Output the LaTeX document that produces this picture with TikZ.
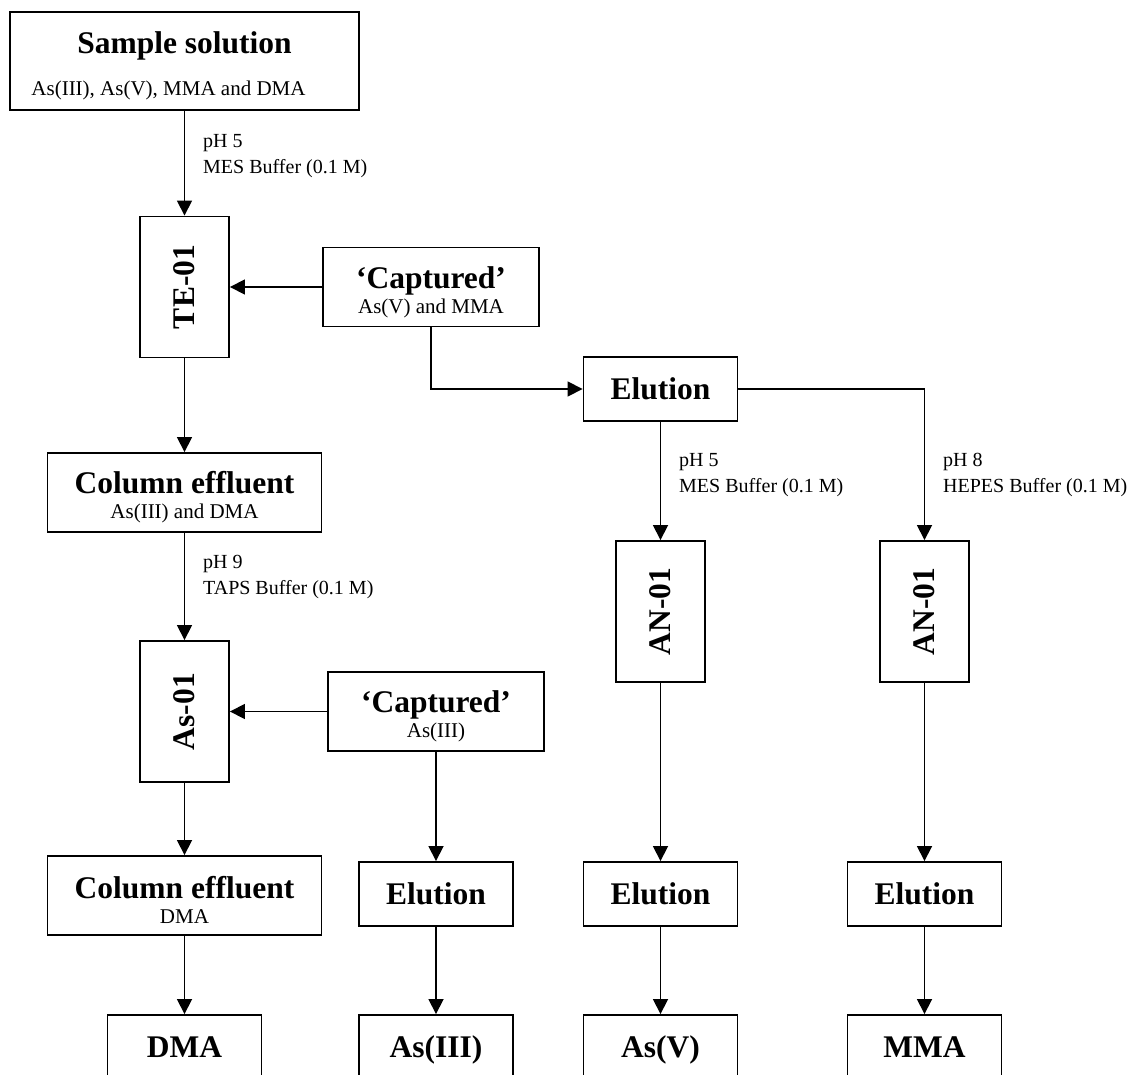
\documentclass[tikz,border=0pt]{standalone}
\usepackage{fontspec}
\setmainfont{Liberation Serif}
\usepackage{graphicx}
\usetikzlibrary{arrows.meta}
\newcommand\boxtitle{\fontsize{31.5}{34}\selectfont\bfseries}
\newcommand\boxsub{\fontsize{21}{25}\selectfont}
\newcommand\notefont{\fontsize{20}{26}\selectfont}
\newcommand\boxtext[2]{{\boxtitle\rule{0pt}{32pt}#1}\\{#2}}
\tikzset{
  stage/.style={draw,line width=1.9pt,inner sep=0pt,align=center,font=\boxsub},
  effluent/.style={stage,minimum width=274pt,minimum height=79pt},
  capt/.style={stage,minimum width=216pt,minimum height=79pt},
  elu/.style={stage,minimum width=154pt,minimum height=64pt,font=\boxtitle,text height=21.5pt,text depth=0pt},
  cartridge/.style={stage,minimum width=89pt,minimum height=141pt},
  note/.style={anchor=west,align=left,inner sep=0pt,font=\notefont},
  flow/.style={line width=1.7pt,-{Triangle[length=15pt,width=15pt]}}
}
\begin{document}
\begin{tikzpicture}[line cap=round,x=1pt,y=-1pt]
		\useasboundingbox (0,0) rectangle (1132,1075);
		\clip (0,0) rectangle (1132,1075);
		% left branch
		\node[stage,minimum width=349pt,minimum height=98pt] (sample) at (184.5,61) {{\boxtitle\rule{0pt}{32pt}Sample solution}\\[17pt]As(III), As(V), MMA and DMA\kern32pt};
		\node[cartridge] (te) at (184.5,287) {\rotatebox{90}{\boxtitle TE-01}};
		\node[capt] (cap1) at (431,287) {\boxtext{‘Captured’}{As(V) and MMA}};
		\node[effluent] (ce1) at (184.5,492.5) {\boxtext{Column effluent}{As(III) and DMA}};
		\node[cartridge] (as) at (184.5,711.5) {\rotatebox{90}{\boxtitle As-01}};
		\node[capt] (cap2) at (436,711.5) {\boxtext{‘Captured’}{As(III)}};
		\node[effluent] (ce2) at (184.5,895.5) {\boxtext{Column effluent}{DMA}};
		% right branch
		\node[elu] (elu1) at (660.5,389) {Elution};
		\node[cartridge] (an1) at (660.5,611.5) {\rotatebox{90}{\boxtitle AN-01}};
		\node[cartridge] (an2) at (924.5,611.5) {\rotatebox{90}{\boxtitle AN-01}};
		\node[elu] (elu2) at (436,894) {Elution};
		\node[elu] (elu3) at (660.5,894) {Elution};
		\node[elu] (elu4) at (924.5,894) {Elution};
		% final species, cut by the frame
		\foreach \x/\name/\txt in {184.5/dma/DMA,436/asiii/{As(III)},660.5/asv/{As(V)},924.5/mma/MMA}
			\node[elu] (\name) at (\x,1047) {\txt};
		% buffers
		\node[note] (n1) at (203,156) {pH 5\\MES Buffer (0.1 M)};
		\node[note] (n2) at (203,577) {pH 9\\TAPS Buffer (0.1 M)};
		\node[note] (n3) at (679,475) {pH 5\\MES Buffer (0.1 M)};
		\node[note] (n4) at (943,475) {pH 8\\HEPES Buffer (0.1 M)};
		% flow
		\draw[flow] (sample) -- (te);
		\draw[flow] (cap1) -- (te);
		\draw[flow] (te) -- (ce1);
		\draw[flow] (ce1) -- (as);
		\draw[flow] (cap2) -- (as);
		\draw[flow] (as) -- (ce2);
		\draw[flow] (ce2) -- (dma);
		\draw[flow] (cap2) -- (elu2);
		\draw[flow] (elu2) -- (asiii);
		\draw[flow] (cap1.south) |- (elu1.west);
		\draw[flow] (elu1) -- (an1);
		\draw[flow] (elu1.east) -| (an2.north);
		\draw[flow] (an1) -- (elu3);
		\draw[flow] (elu3) -- (asv);
		\draw[flow] (an2) -- (elu4);
		\draw[flow] (elu4) -- (mma);
	\end{tikzpicture}
\end{document}
